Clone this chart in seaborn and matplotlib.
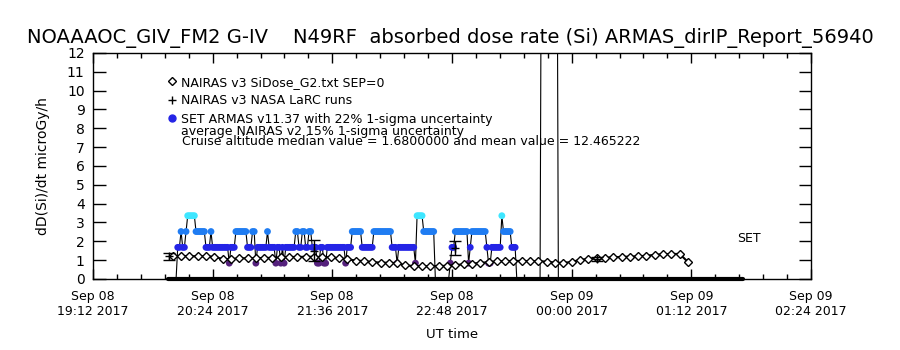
import numpy as np
import pandas as pd
import matplotlib
matplotlib.use("Agg")
import matplotlib.pyplot as plt
import matplotlib.dates as mdates
from matplotlib.lines import Line2D
import seaborn as sns

# =========================
# DATA
# =========================

# x axis range
axis_start = "2017-09-08 19:12"
axis_end = "2017-09-09 02:24"

# NAIRAS v3 SiDose_G2 model, every 5 minutes from 20:00 UT
nairas_start = "2017-09-08 20:00"
nairas_dose = [
    1.22, 1.22, 1.22, 1.20, 1.20, 1.18, 1.06, 1.05, 1.10, 1.10,
    1.10, 1.12, 1.12, 1.15, 1.17, 1.17, 1.18, 1.18, 1.17, 1.15,
    1.10, 1.05, 0.98, 0.95, 0.90, 0.87, 0.86, 0.85, 0.72, 0.69,
    0.68, 0.68, 0.69, 0.70, 0.74, 0.78, 0.82, 0.85, 0.90, 0.93,
    0.95, 0.96, 0.96, 0.95, 0.95, 0.92, 0.87, 0.86, 0.90, 1.02,
    1.06, 1.10, 1.12, 1.16, 1.17, 1.19, 1.20, 1.24, 1.28, 1.32,
    1.33, 1.33, 0.90,
]

# NAIRAS v3 NASA LaRC runs with error bars
larc_times = ["2017-09-08 19:58", "2017-09-08 21:25", "2017-09-08 22:50", "2017-09-09 00:15"]
larc_dose = [1.20, 1.50, 1.65, 1.05]
larc_err = [0.18, 0.55, 0.35, 0.12]

# SET ARMAS 1-minute counts from 19:57 UT, written as runs:
# count level and how many minutes it stays there (1 count = 0.84 microGy/h)
armas_start = "2017-09-08 19:57"
armas_levels = [
    0, 2, 3, 2, 3, 4, 3, 2, 3, 2, 1, 2, 3, 2, 3, 1, 2, 3, 2, 1,
    2, 1, 2, 1, 2, 3, 2, 3, 2, 3, 2, 1, 2, 1, 2, 1, 2, 3, 2, 3,
    2, 1, 2, 1, 4, 3, 0, 1, 2, 3, 1, 2, 3, 2, 1, 2, 4, 3, 2, 0,
    30, 0,
]
armas_minutes = [
    6, 2, 1, 2, 1, 5, 6, 3, 1, 10, 1, 3, 7, 3, 2, 1, 6, 1, 4, 1,
    2, 1, 1, 1, 6, 2, 2, 2, 2, 2, 3, 2, 2, 2, 11, 1, 3, 6, 7, 11,
    3, 1, 10, 1, 4, 7, 9, 1, 2, 8, 1, 1, 9, 1, 2, 6, 1, 5, 3, 15,
    10, 112,
]
armas_dose_per_count = 0.84

# low channel that sits on zero for the whole flight
baseline_times = ["2017-09-08 19:57", "2017-09-09 01:43"]
baseline_dose = [0.0, 0.0]

# colour of each ARMAS count level
level_colors = {
    1: "#54207c",
    2: "#2424e6",
    3: "#1f7cf2",
    4: "#3ee6ff",
    30: "#3ee6ff",
}

title = "NOAAAOC_GIV_FM2 G-IV    N49RF  absorbed dose rate (Si) ARMAS_dirIP_Report_56940"

# =========================
# BUILD TABLES
# =========================
nairas = pd.DataFrame({
    "time": pd.date_range(nairas_start, periods=len(nairas_dose), freq="5min"),
    "dose": nairas_dose,
})

larc = pd.DataFrame({
    "time": pd.to_datetime(larc_times),
    "dose": larc_dose,
    "err": larc_err,
})

armas_counts = np.repeat(armas_levels, armas_minutes)
armas = pd.DataFrame({
    "time": pd.date_range(armas_start, periods=len(armas_counts), freq="1min"),
    "counts": armas_counts,
})
armas["dose"] = armas["counts"] * armas_dose_per_count

baseline = pd.DataFrame({
    "time": pd.to_datetime(baseline_times),
    "dose": baseline_dose,
})

# =========================
# PLOT
# =========================
sns.set_style("ticks")
plt.rcParams["font.family"] = ["DejaVu Sans"]
plt.rcParams["text.color"] = "black"
plt.rcParams["axes.labelcolor"] = "black"
plt.rcParams["xtick.color"] = "black"
plt.rcParams["ytick.color"] = "black"

fig = plt.figure(figsize=(9, 3.5), dpi=100)
ax = fig.add_axes([0.1033, 0.2029, 0.7978, 0.6457])

# zero baseline
base = sns.lineplot(
    data=baseline, x="time", y="dose", color="black",
    linewidth=3, estimator=None, ax=ax, zorder=1
)
base.lines[-1].set_clip_on(False)

# ARMAS connecting line and markers
sns.lineplot(
    data=armas, x="time", y="dose", color="black",
    linewidth=0.8, estimator=None, sort=False, ax=ax, zorder=2
)
sns.scatterplot(
    data=armas[armas["counts"] > 0], x="time", y="dose",
    hue="counts", palette=level_colors, marker="o", s=24,
    linewidth=0, legend=False, ax=ax, zorder=4
)

# NAIRAS v3 SiDose model
sns.lineplot(
    data=nairas, x="time", y="dose", color="black", linewidth=1.5,
    marker="D", markersize=4.5, markerfacecolor="white",
    markeredgecolor="black", markeredgewidth=1.0,
    estimator=None, ax=ax, zorder=5
)

# NAIRAS LaRC runs
ax.errorbar(
    larc["time"], larc["dose"], yerr=larc["err"], fmt="+",
    color="black", ms=6, capsize=4, elinewidth=1, zorder=6
)

# =========================
# AXES STYLE
# =========================
ax.set_xlim(pd.Timestamp(axis_start), pd.Timestamp(axis_end))
ax.set_ylim(0, 12)
ax.set_yticks(range(0, 13))
ax.set_xticks(pd.date_range(axis_start, axis_end, freq="72min"))
ax.set_xticks(pd.date_range(axis_start, axis_end, freq="864s"), minor=True)
ax.xaxis.set_major_formatter(mdates.DateFormatter("%b %d\n%H:%M %Y"))

ax.tick_params(axis="x", which="major", direction="in", length=7, width=1,
               top=True, labelsize=9, pad=8)
ax.tick_params(axis="x", which="minor", direction="in", length=3.5, width=1,
               top=True)
ax.tick_params(axis="y", which="major", direction="in", length=9, width=1,
               right=True, labelsize=10, pad=6)
for side in ax.spines.values():
    side.set_linewidth(1)
    side.set_color("black")

ax.set_xlabel("UT time", fontsize=9.5, labelpad=7)
ax.set_ylabel("dD(Si)/dt microGy/h", fontsize=10, labelpad=12)

fig.text(0.5, 0.891, title, fontsize=14, ha="center", va="center")

# =========================
# LEGEND AND NOTES
# =========================
handles = [
    Line2D([], [], marker="D", ls="none", mfc="white", mec="black", ms=4, mew=1),
    Line2D([], [], marker="+", ls="none", color="black", ms=6, mew=1),
    Line2D([], [], marker="o", ls="none", color="#2424e6", ms=5),
]
labels = [
    "NAIRAS v3 SiDose_G2.txt SEP=0",
    "NAIRAS v3 NASA LaRC runs",
    "SET ARMAS v11.37 with 22% 1-sigma uncertainty",
]
ax.legend(
    handles, labels, loc="upper left", bbox_to_anchor=(0.105, 0.90),
    frameon=False, fontsize=9, handlelength=0.6, handletextpad=0.4,
    labelspacing=0.45, borderaxespad=0, borderpad=0
)
ax.text(0.123, 0.652, "average NAIRAS v2 15% 1-sigma uncertainty",
        transform=ax.transAxes, fontsize=9, va="center", ha="left")
ax.text(0.124, 0.610,
        "Cruise altitude median value = 1.6800000 and mean value = 12.465222",
        transform=ax.transAxes, fontsize=9, va="center", ha="left")
ax.text(0.913, 0.181, "SET", transform=ax.transAxes, fontsize=9,
        va="center", ha="center")

fig.savefig("out.png", dpi=100)
plt.close(fig)
